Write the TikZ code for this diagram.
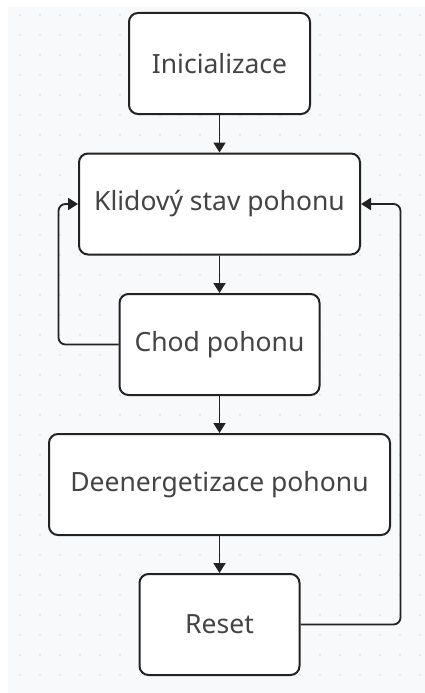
\documentclass[tikz,border=0pt]{standalone}
\usepackage{fontspec}
\setmainfont{Noto Sans}
\usetikzlibrary{arrows.meta}
\definecolor{bggray}{HTML}{F8F9FB}
\definecolor{dotgray}{HTML}{D6D8DC}
\definecolor{txtgray}{HTML}{444444}
\definecolor{linegray}{HTML}{222222}
\tikzset{
  state/.style={draw=linegray, line width=2pt, rounded corners=9pt, fill=white,
    text=txtgray, font=\fontsize{26.5}{31}\selectfont, minimum height=101pt, inner sep=0pt},
  flow/.style={draw=linegray, line width=1.8pt, rounded corners=7pt,
    -{Triangle[width=12pt,length=10pt]}},
}
\begin{document}
\begin{tikzpicture}[x=1pt,y=-1pt]
      \useasboundingbox (0,0) rectangle (425,693);
      \fill[bggray] (8,7) rectangle (425,693);
      \foreach \i in {1,...,21}
        \foreach \j in {0,...,33}
          \fill[dotgray] (20*\i,15+20*\j) circle (0.9pt);
      \draw
        (219.5,63.5) node[state, minimum width=181pt] (init){Inicializace}
        (219.5,204) node[state, minimum width=281pt] (klid){Klidový stav pohonu}
        (219.5,344.5) node[state, minimum width=200pt] (chod){Chod pohonu}
        (219.5,484.5) node[state, minimum width=341pt] (deen){Deenergetizace pohonu}
        (219.5,624.5) node[state, minimum width=160pt] (reset){Reset};
      \begin{scope}[flow]
        \draw (init) to (klid);
        \draw (klid) to (chod);
        \draw (chod) to (deen);
        \draw (deen) to (reset);
        \draw (chod.west) -- ++(-60,0) |- (klid.west);
        \draw (reset.east) -- ++(100,0) |- (klid.east);
      \end{scope}
    \end{tikzpicture}
\end{document}
